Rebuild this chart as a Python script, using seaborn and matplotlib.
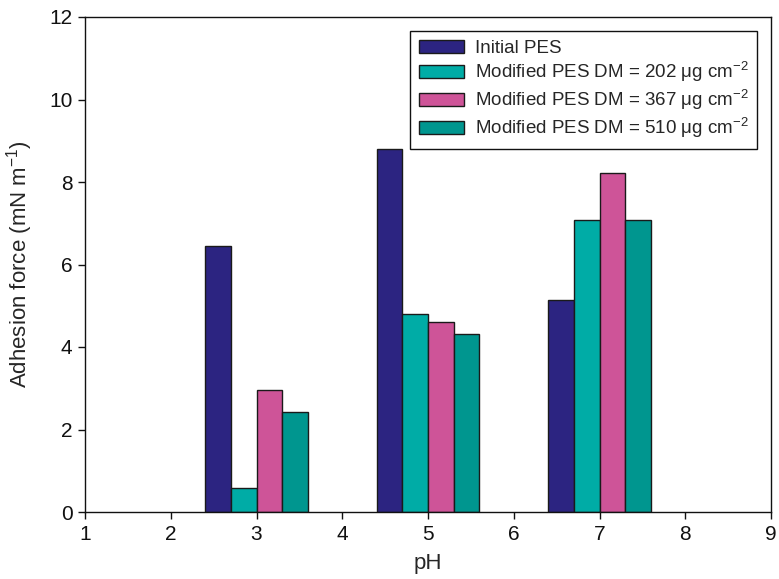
import matplotlib
matplotlib.use("Agg")
import matplotlib.pyplot as plt
import seaborn as sns
import pandas as pd

# Adhesion force measured at three pH values for each membrane
ph_values = [3, 5, 7]
series_names = [
    "Initial PES",
    "Modified PES DM = 202 μg cm$^{-2}$",
    "Modified PES DM = 367 μg cm$^{-2}$",
    "Modified PES DM = 510 μg cm$^{-2}$",
]
initial_pes = [6.45, 8.79, 5.13]
dm_202 = [0.57, 4.81, 7.09]
dm_367 = [2.96, 4.61, 8.21]
dm_510 = [2.42, 4.31, 7.09]
series_colors = ["#2C2481", "#00ACA6", "#CE5498", "#00968F"]

x_ticks = [1, 2, 3, 4, 5, 6, 7, 8, 9]
y_ticks = [0, 2, 4, 6, 8, 10, 12]

rows = []
for name, vals in zip(series_names, [initial_pes, dm_202, dm_367, dm_510]):
    for ph, v in zip(ph_values, vals):
        rows.append({"pH": ph, "force": v, "series": name})
df = pd.DataFrame(rows)

sns.set_theme(style="ticks")
plt.rcParams["font.family"] = ["Liberation Sans", "DejaVu Sans"]
plt.rcParams["mathtext.fontset"] = "custom"
plt.rcParams["mathtext.rm"] = "Liberation Sans"
plt.rcParams["mathtext.it"] = "Liberation Sans:italic"
plt.rcParams["mathtext.bf"] = "Liberation Sans:bold"

fig = plt.figure(figsize=(7.79, 5.79), dpi=100)
ax = fig.add_axes([85 / 779, 1 - 512 / 579, (771 - 85) / 779, (512 - 17) / 579])

sns.barplot(
    data=df, x="pH", y="force", hue="series", hue_order=series_names,
    palette=series_colors, saturation=1, native_scale=True, dodge=True,
    width=0.6, edgecolor="#1a1a1a", linewidth=1.0, ax=ax, errorbar=None,
)

ax.set_xlim(1, 9)
ax.set_ylim(0, 12)
ax.set_xticks(x_ticks)
ax.set_xticklabels([str(t) for t in x_ticks])
ax.set_yticks(y_ticks)
ax.set_yticklabels([str(t) for t in y_ticks])
ax.tick_params(direction="out", length=5, width=1, labelsize=15, colors="#111111", pad=4)
for side in ["left", "right", "top", "bottom"]:
    ax.spines[side].set_visible(True)
    ax.spines[side].set_color("#111111")
    ax.spines[side].set_linewidth(1.0)

ax.set_xlabel("pH", fontsize=16, labelpad=7)
ax.set_ylabel("Adhesion force (mN m$^{-1}$)", fontsize=16, labelpad=10)

leg = ax.legend(
    loc="upper right", fontsize=13.5, frameon=True, fancybox=False,
    edgecolor="#111111", framealpha=1, handlelength=2.4, handleheight=0.7,
    labelspacing=0.2, borderaxespad=0.75, borderpad=0.45, handletextpad=0.6,
    title=None,
)
leg.get_frame().set_linewidth(1.0)

fig.savefig("out.png", dpi=100)
